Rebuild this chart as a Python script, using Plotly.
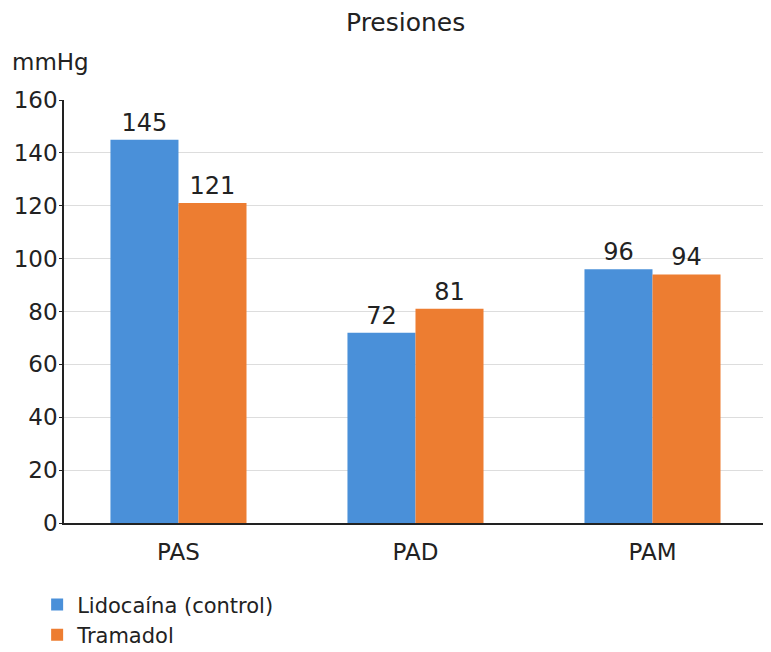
import plotly.graph_objects as go

categories = ["PAS", "PAD", "PAM"]
lidocaina = [145, 72, 96]
tramadol = [121, 81, 94]
series_names = ["Lidocaína (control)", "Tramadol"]
y_ticks = [0, 20, 40, 60, 80, 100, 120, 140, 160]

font_family = "DejaVu Sans, Verdana, sans-serif"
text_color = "#222222"

fig = go.Figure()
fig.add_trace(go.Bar(x=categories, y=lidocaina, name=series_names[0],
                     marker=dict(color="#4A90D9", line=dict(width=0)),
                     text=lidocaina, textposition="outside",
                     textfont=dict(size=24, color=text_color), cliponaxis=False))
fig.add_trace(go.Bar(x=categories, y=tramadol, name=series_names[1],
                     marker=dict(color="#ED7D31", line=dict(width=0)),
                     text=tramadol, textposition="outside",
                     textfont=dict(size=24, color=text_color), cliponaxis=False))

fig.update_layout(
    width=763, height=644,
    margin=dict(l=56, r=0, t=92, b=129, autoexpand=False),
    paper_bgcolor="white", plot_bgcolor="white",
    font=dict(family=font_family, size=20, color=text_color),
    barmode="group", bargap=0.426, bargroupgap=0,
    showlegend=True,
    legend=dict(orientation="v", x=-0.038, xanchor="left", y=-0.145, yanchor="top",
                font=dict(size=21, color=text_color), traceorder="normal",
                itemwidth=30, tracegroupgap=0, bgcolor="rgba(0,0,0,0)"),
    xaxis=dict(range=[-0.483, 2.5], showgrid=False, showline=True, linecolor="#222222",
               linewidth=1.5, ticks="outside", ticklen=8, tickcolor="rgba(0,0,0,0)",
               tickfont=dict(size=23, color=text_color)),
    yaxis=dict(range=[0, 160], tickvals=y_ticks, showgrid=True, gridcolor="#DDDDDD",
               gridwidth=1, showline=True, linecolor="#222222", linewidth=1.5,
               ticks="outside", ticklen=3, tickcolor="#222222", ticklabelstandoff=-3,
               tickfont=dict(size=23, color=text_color), zeroline=False),
    annotations=[
        dict(text="Presiones", xref="paper", yref="paper", x=0.483, y=1.0,
             yshift=78, xanchor="center", yanchor="middle", showarrow=False,
             font=dict(size=25, color=text_color)),
        dict(text="mmHg", xref="paper", yref="paper", x=-0.076, y=1.0,
             yshift=38, xanchor="left", yanchor="middle", showarrow=False,
             font=dict(size=23, color=text_color)),
    ],
)

fig.write_html("out.html")
